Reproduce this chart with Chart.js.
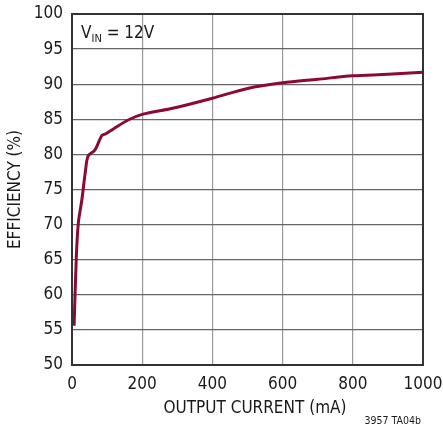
<!DOCTYPE html>
<html>
<head>
<meta charset="utf-8">
<script src="https://cdn.jsdelivr.net/npm/chart.js@4"></script>
<style>
  html, body { margin: 0; padding: 0; background: #fff; }
  #wrap { width: 443px; height: 428px; }
</style>
</head>
<body>
<div id="wrap"><canvas id="effChart" width="443" height="428"></canvas></div>
<script>
// datos
const currentMA = [6, 12, 18, 28, 38, 46, 65, 85, 95, 120, 160, 200, 290, 400, 500, 600, 700, 800, 900, 1000];
const efficiency = [55.6, 65.0, 70.2, 73.5, 77.5, 79.8, 80.6, 82.7, 82.9, 83.7, 84.9, 85.7, 86.6, 88.0, 89.4, 90.2, 90.7, 91.2, 91.4, 91.7];
const xTicks = [0, 200, 400, 600, 800, 1000];
const yTicks = [50, 55, 60, 65, 70, 75, 80, 85, 90, 95, 100];

const FONT = "'DejaVu Sans Condensed', Roboto, 'Liberation Sans', sans-serif";

// marco, etiquetas y codigo de figura
const extras = {
    id: 'extras',
    afterDraw(chart) {
        const c = chart.ctx;
        const a = chart.chartArea;
        c.save();
        c.strokeStyle = '#333';
        c.lineWidth = 2;
        c.strokeRect(a.left, a.top, a.right - a.left, a.bottom - a.top);

        c.fillStyle = '#1a1a1a';
        c.textBaseline = 'alphabetic';
        c.textAlign = 'left';
        c.font = '17px ' + FONT;
        let x = 81;
        c.fillText('V', x, 38);
        x += c.measureText('V').width;
        c.font = '11px ' + FONT;
        c.fillText('IN', x, 42);
        x += c.measureText('IN').width;
        c.font = '17px ' + FONT;
        c.fillText(' = 12V', x, 38);

        // titulo del eje x
        c.textAlign = 'center';
        c.fillText('OUTPUT CURRENT (mA)', 255, 413);

        c.font = '10.5px ' + FONT;
        c.textAlign = 'right';
        c.fillText('3957 TA04b', 421, 424);
        c.restore();
    }
};

new Chart(document.getElementById('effChart'), {
    type: 'line',
    data: {
        datasets: [{
            data: currentMA.map((v, i) => ({ x: v, y: efficiency[i] })),
            borderColor: '#8c0a32',
            borderWidth: 3,
            pointRadius: 0,
            tension: 0.3,
            fill: false
        }]
    },
    options: {
        responsive: false,
        animation: false,
        layout: { padding: { top: 14, right: 20, left: 0, bottom: 0 } },
        plugins: { legend: { display: false }, tooltip: { enabled: false } },
        scales: {
            x: {
                type: 'linear',
                min: 0, max: 1000,
                afterBuildTicks: s => { s.ticks = xTicks.map(v => ({ value: v })); },
                afterFit: s => { s.height = 63; s.paddingRight = 0; s.paddingLeft = 0; },
                grid: { color: '#999', lineWidth: 1.2, drawTicks: false },
                border: { display: false },
                ticks: { padding: 9, color: '#1a1a1a', font: { family: FONT, size: 17 }, maxRotation: 0,
                         callback: v => String(v) },
                title: { display: false }
            },
            y: {
                min: 50, max: 100,
                afterBuildTicks: s => { s.ticks = yTicks.map(v => ({ value: v })); },
                afterFit: s => { s.width = 72; s.paddingTop = 0; s.paddingBottom = 0; },
                grid: { color: '#666', lineWidth: 1.2, drawTicks: false },
                border: { display: false },
                ticks: { padding: 9, color: '#1a1a1a', font: { family: FONT, size: 17 },
                         callback: v => String(v) },
                title: { display: true, text: 'EFFICIENCY (%)', color: '#1a1a1a',
                         font: { family: FONT, size: 17 }, padding: { top: 5, bottom: 4 } }
            }
        }
    },
    plugins: [extras]
});
</script>
</body>
</html>
